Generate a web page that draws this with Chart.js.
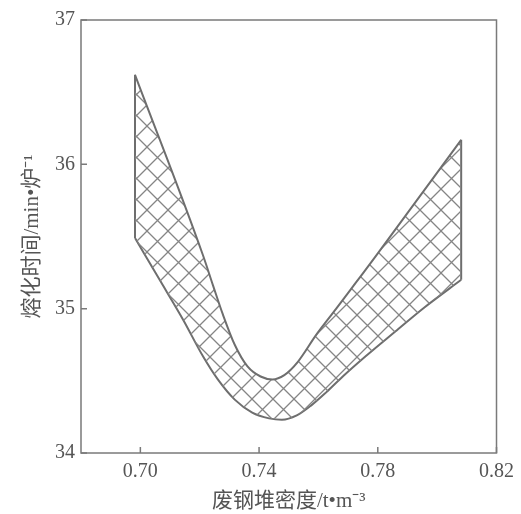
<!DOCTYPE html>
<html>
<head>
<meta charset="utf-8">
<script src="https://cdn.jsdelivr.net/npm/chart.js@4"></script>
<style>
  html, body { margin: 0; padding: 0; background: #fff; }
  #wrap { width: 521px; height: 514px; }
</style>
</head>
<body>
<div id="wrap"><canvas id="meltChart"></canvas></div>
<script>
// upper boundary of the band (left to right)
const upperX = [0.6982, 0.7211, 0.7245, 0.7278, 0.7318, 0.7361, 0.7405, 0.7445, 0.7485, 0.7530, 0.7593, 0.7660, 0.7726, 0.7792, 0.8081];
const upperY = [36.62, 35.37, 35.16, 34.96, 34.75, 34.60, 34.53, 34.51, 34.54, 34.63, 34.82, 35.00, 35.18, 35.36, 36.17];
// lower boundary of the band (left to right)
const lowerX = [0.6982, 0.7062, 0.7145, 0.7211, 0.7261, 0.7318, 0.7377, 0.7434, 0.7477, 0.7527, 0.7576, 0.7626, 0.7682, 0.7759, 0.7858, 0.7958, 0.8081];
const lowerY = [35.49, 35.21, 34.92, 34.67, 34.51, 34.37, 34.28, 34.24, 34.23, 34.26, 34.33, 34.42, 34.53, 34.67, 34.84, 35.01, 35.20];

const xTicks = [0.70, 0.74, 0.78, 0.82];
const yTicks = [34, 35, 36, 37];
const xTitle = '废钢堆密度/t•m⁻³';
const yTitle = '熔化时间/min•炉⁻¹';

const toPoints = (xs, ys) => xs.map((x, i) => ({ x: x, y: ys[i] }));
const last = upperX.length - 1;
const lastLow = lowerX.length - 1;

const canvas = document.getElementById('meltChart');
const ctx = canvas.getContext('2d');

// cross hatch fill
function makeHatch() {
    const s = 21;
    const tile = document.createElement('canvas');
    tile.width = s;
    tile.height = s;
    const t = tile.getContext('2d');
    t.strokeStyle = '#858585';
    t.lineWidth = 1.3;
    for (let k = -1; k <= 1; k++) {
        t.beginPath();
        t.moveTo(k * s, 0);
        t.lineTo(k * s + s, s);
        t.moveTo(k * s, s);
        t.lineTo(k * s + s, 0);
        t.stroke();
    }
    return ctx.createPattern(tile, 'repeat');
}

const textColor = '#555';
const lineColor = '#6e6e6e';
const serif = '"Liberation Serif", "Noto Sans CJK SC", serif';

// frame round the plot and short inward ticks
const framePlugin = {
    id: 'frame',
    afterDraw(chart) {
        const c = chart.ctx;
        const a = chart.chartArea;
        const xs = chart.scales.x;
        const ys = chart.scales.y;
        c.save();
        c.strokeStyle = '#7a7a7a';
        c.lineWidth = 1.5;
        c.strokeRect(a.left, a.top, a.right - a.left, a.bottom - a.top);
        c.beginPath();
        xs.ticks.forEach(t => {
            const px = xs.getPixelForValue(t.value);
            c.moveTo(px, a.bottom);
            c.lineTo(px, a.bottom - 6);
        });
        ys.ticks.forEach(t => {
            const py = ys.getPixelForValue(t.value);
            c.moveTo(a.left, py);
            c.lineTo(a.left + 6, py);
        });
        c.stroke();
        c.restore();
    }
};

const edgeStyle = {
    borderColor: lineColor,
    borderWidth: 2,
    fill: false,
    pointRadius: 0
};

const meltChart = new Chart(ctx, {
    type: 'line',
    data: {
        datasets: [
            {
                label: 'upper',
                data: toPoints(upperX, upperY),
                borderColor: lineColor,
                borderWidth: 2,
                backgroundColor: makeHatch(),
                fill: '+1',
                cubicInterpolationMode: 'monotone',
                pointRadius: 0
            },
            {
                label: 'lower',
                data: toPoints(lowerX, lowerY),
                borderColor: lineColor,
                borderWidth: 2,
                fill: false,
                cubicInterpolationMode: 'monotone',
                pointRadius: 0
            },
            Object.assign({
                label: 'left edge',
                data: [{ x: upperX[0], y: upperY[0] }, { x: lowerX[0], y: lowerY[0] }]
            }, edgeStyle),
            Object.assign({
                label: 'right edge',
                data: [{ x: upperX[last], y: upperY[last] }, { x: lowerX[lastLow], y: lowerY[lastLow] }]
            }, edgeStyle)
        ]
    },
    options: {
        responsive: true,
        maintainAspectRatio: false,
        animation: false,
        layout: { padding: { top: 20, right: 18, left: 0, bottom: 0 } },
        plugins: {
            legend: { display: false },
            tooltip: { enabled: false }
        },
        scales: {
            x: {
                type: 'linear',
                min: 0.68,
                max: 0.82,
                grid: { display: false, drawTicks: false },
                border: { display: false },
                afterBuildTicks: s => { s.ticks = xTicks.map(v => ({ value: v })); },
                afterFit: s => { s.height = 61; },
                ticks: {
                    padding: 7,
                    color: textColor,
                    font: { family: serif, size: 20 },
                    callback: v => v.toFixed(2)
                },
                title: {
                    display: true,
                    text: xTitle,
                    color: textColor,
                    font: { family: serif, size: 21 },
                    padding: { top: 0, bottom: 0 }
                }
            },
            y: {
                min: 34,
                max: 37,
                grid: { display: false, drawTicks: false },
                border: { display: false },
                afterBuildTicks: s => { s.ticks = yTicks.map(v => ({ value: v })); },
                afterFit: s => { s.width = 81; },
                ticks: {
                    padding: 6,
                    color: textColor,
                    font: { family: serif, size: 20 }
                },
                title: {
                    display: true,
                    text: yTitle,
                    color: textColor,
                    font: { family: serif, size: 21 },
                    padding: { top: 20, bottom: 0 }
                }
            }
        }
    },
    plugins: [framePlugin]
});
</script>
</body>
</html>
